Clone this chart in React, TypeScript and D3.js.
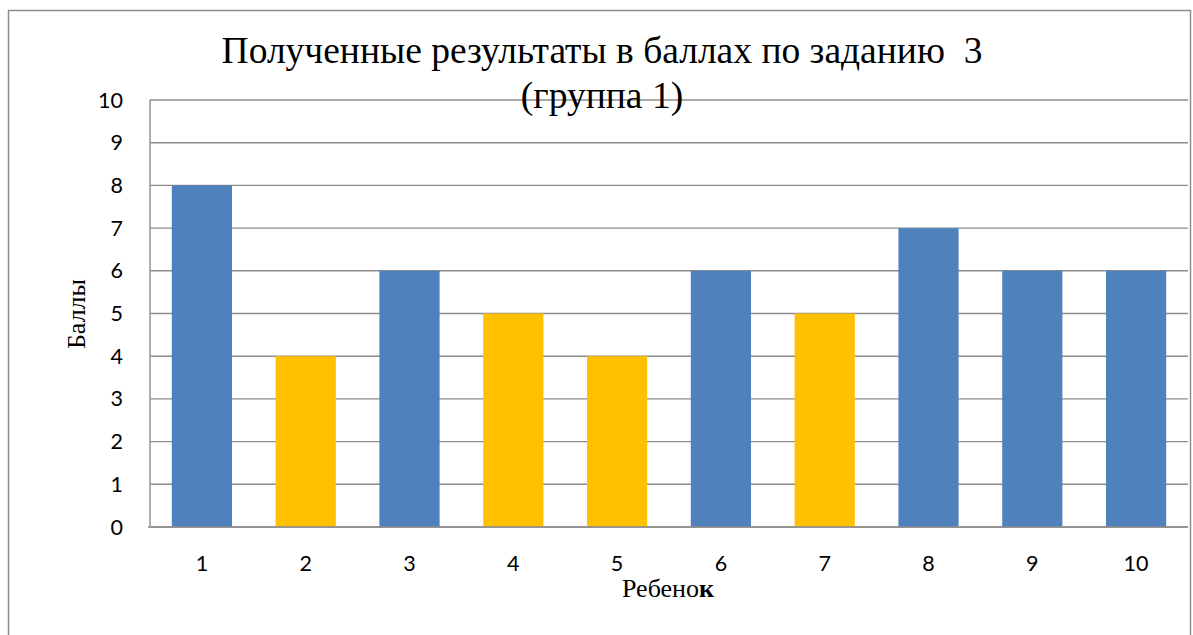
import React from "react";
import * as d3 from "d3";

const categories = ["1", "2", "3", "4", "5", "6", "7", "8", "9", "10"];
const scores = [8, 4, 6, 5, 4, 6, 5, 7, 6, 6];
const highlight = [false, true, false, true, true, false, true, false, false, false];
const yTicks = [0, 1, 2, 3, 4, 5, 6, 7, 8, 9, 10];
const titleLines = ["Полученные результаты в баллах по заданию  3", "(группа 1)"];

const W = 1193;
const H = 635;
const left = 150;
const right = 1188;
const top = 100;
const bottom = 527;

export default function App() {
  const x = d3.scaleBand<string>().domain(categories).range([left, right]).paddingInner(0.42).paddingOuter(0.21);
  const y = d3.scaleLinear().domain([0, 10]).range([bottom, top]);
  const grid = "#8c8c8c";
  const tickFont = "Lato, 'Open Sans', sans-serif";
  const serif = "Liberation Serif, Times New Roman, serif";
  return (
    <svg width={W} height={H} style={{ position: "absolute", left: 0, top: 0, background: "#fff" }}>
      <rect x={8.5} y={10.5} width={1182} height={640} fill="#fff" stroke={grid} strokeWidth={1.5} />
      {yTicks.map((t) => (
        <line key={"g" + t} x1={left} x2={right} y1={y(t)} y2={y(t)} stroke={grid} strokeWidth={1.4} />
      ))}
      <line x1={left} x2={left} y1={top} y2={bottom} stroke={grid} strokeWidth={1.4} />
      {categories.map((c, i) => (
        <rect
          key={c}
          x={x(c)}
          y={y(scores[i])}
          width={x.bandwidth()}
          height={y(0) - y(scores[i])}
          fill={highlight[i] ? "#FFC000" : "#4F81BD"}
        />
      ))}
      <line x1={left - 2} x2={right} y1={bottom} y2={bottom} stroke={grid} strokeWidth={1.6} />
      {yTicks.map((t) => (
        <text key={"t" + t} x={123} y={y(t) + 7.5} textAnchor="end" fontFamily={tickFont} fontSize={21.5} fill="#000">
          {t}
        </text>
      ))}
      {categories.map((c) => (
        <text key={"x" + c} x={(x(c) as number) + x.bandwidth() / 2} y={571} textAnchor="middle" fontFamily={tickFont} fontSize={21.5} fill="#000">
          {c}
        </text>
      ))}
      {titleLines.map((l, i) => (
        <text key={"ti" + i} x={602} y={63 + i * 44.5} textAnchor="middle" fontFamily={serif} fontSize={37.5} fill="#000" style={{ whiteSpace: "pre" }}>
          {l}
        </text>
      ))}
      <text x={668} y={597} textAnchor="middle" fontFamily={serif} fontSize={26} fill="#000">
        Ребено<tspan fontWeight="bold">к</tspan>
      </text>
      <text transform="translate(85,314) rotate(-90)" textAnchor="middle" fontFamily={serif} fontSize={26} fill="#000">
        Баллы
      </text>
    </svg>
  );
}
